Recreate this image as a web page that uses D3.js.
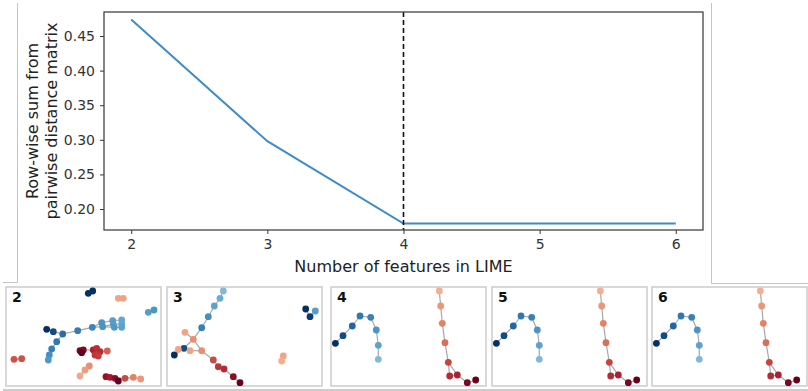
<!DOCTYPE html>
<html><head><meta charset="utf-8">
<script src="https://cdn.jsdelivr.net/npm/d3@7"></script>
<style>html,body{margin:0;padding:0;background:#fff;}svg{display:block;font-family:"DejaVu Sans",sans-serif;}</style>
</head><body>
<svg id="chart" width="808" height="391"></svg>
<script>
// ---- Top line chart data ----
const featureCounts = [2, 3, 4, 5, 6];
const rowSums = [0.474, 0.298, 0.179, 0.179, 0.179];
const chosenCount = 4;
const xTickValues = [2, 3, 4, 5, 6];
const yTickValues = [0.20, 0.25, 0.30, 0.35, 0.40, 0.45];
const xLabel = "Number of features in LIME";
const yLabelLines = ["Row-wise sum from", "pairwise distance matrix"];

// ---- Bottom graph panels: [x, y, colourValue] in embedding units ----
const panelLabels = ["2", "3", "4", "5", "6"];
const nodesK2 = [
  [82.3,6.3,1.0],[86.7,4,1.0],[112.3,11.3,0.3],[117.3,11.3,0.3],[142.3,25.3,0.78],[148,23,0.8],
  [40.7,42.3,1.0],[47.3,44.7,0.95],[56.7,47,0.88],[71.7,43.7,0.85],[86.3,40.3,0.83],
  [95.7,35.7,0.8],[96.7,39.7,0.8],[106.7,33.7,0.78],[107.3,37.3,0.78],[108.3,40.3,0.79],
  [115.7,33,0.76],[115.7,37,0.76],[115.7,40.3,0.77],
  [50.7,54.7,0.86],[45.7,62,0.84],[43.3,68,0.81],[42.3,73,0.79],
  [8,72.3,0.18],[15.7,71.7,0.18],
  [74,63.7,0.02],[77.3,63,0.04],[75.7,65.7,0.0],[87.3,63,0.1],[90.7,61.3,0.13],[94,64.7,0.12],
  [89,68,0.14],[92.3,69,0.15],[101.3,64,0.2],
  [83.3,79,0.27],[79,83,0.29],[74,89,0.31],
  [100,89.7,0.06],[104,90.3,0.09],[109,91.3,0.05],[112.3,94,0.0],[119,91.3,0.17],[127.3,90.3,0.25],[134.7,92,0.28]
];
const edgesK2 = [[0,1],[2,3],[4,5],[6,7],[7,8],[8,9],[9,10],[10,11],[10,12],[11,13],[12,14],[13,16],[14,17],[15,18],[12,15],
  [8,19],[19,20],[20,21],[21,22],[23,24],[25,26],[26,28],[28,29],[29,30],[30,31],[31,32],[30,33],[34,35],[35,36],
  [37,38],[38,39],[39,40],[39,41],[41,42],[42,43]];
const nodesK3 = [
  [56.3,4,0.72],[53,11.3,0.75],[47.3,19,0.77],[41.3,29.7,0.81],[34.7,40.7,0.84],
  [26.3,52.3,0.27],[18,45.3,0.3],[17,61.3,0.95],[7.3,68,1.0],[11.3,62.3,0.3],[23,63.7,0.3],[34.7,63.7,0.27],
  [46.3,73,0.17],[51.3,79.7,0.14],[57,82,0.12],[66.3,89.7,0.05],[73,95.7,0.0],
  [138.7,22,1.0],[143,29.7,0.98],[148.3,24,0.78],[116.3,69,0.3],[114.7,74,0.32]
];
const edgesK3 = [[0,1],[1,2],[2,3],[3,4],[4,5],[5,6],[5,7],[5,11],[7,8],[9,10],[10,11],[11,12],[12,13],[13,14],[14,15],[15,16],
  [17,18],[18,19],[20,21]];
const nodesStable = [
  [4.4,56.3,1.0],[12,48.7,0.95],[21.3,39,0.9],[29,29,0.86],[39.7,30.3,0.84],[45.3,43,0.8],[47.3,58.3,0.77],[47.3,72.3,0.72],
  [108.3,4,0.32],[109.7,19,0.28],[111.3,36.3,0.25],[114,55.7,0.22],[117.3,75.3,0.16],[118.7,89,0.12],[126.3,88,0.1],[136.3,95.7,0.03],[144.7,93,0.0]
];
const edgesStable = [[0,1],[1,2],[2,3],[3,4],[4,5],[5,6],[6,7],[8,9],[9,10],[10,11],[11,12],[12,13],[12,14],[13,14],[14,15],[15,16]];
const panelNodes = [nodesK2, nodesK3, nodesStable, nodesStable, nodesStable];
const panelEdges = [edgesK2, edgesK3, edgesStable, edgesStable, edgesStable];

const svg = d3.select("#chart");

// frame lines of the composite figure
const frame = svg.append("g").attr("stroke", "#c4c4c4").attr("stroke-width", 1).attr("fill", "none");
frame.append("line").attr("x1", 17.5).attr("x2", 17.5).attr("y1", 3).attr("y2", 282.5);
frame.append("line").attr("x1", 711.5).attr("x2", 711.5).attr("y1", 3).attr("y2", 283.5);
frame.append("line").attr("x1", 3).attr("x2", 17.5).attr("y1", 282.5).attr("y2", 282.5);
frame.append("line").attr("x1", 711.5).attr("x2", 808).attr("y1", 283.5).attr("y2", 283.5);
frame.append("line").attr("x1", 3).attr("x2", 808).attr("y1", 390).attr("y2", 390).attr("stroke", "#999");

// ---- top chart ----
const L = 104, R = 703, T = 12, B = 230;
const x = d3.scaleLinear().domain([1.8, 6.2]).range([L, R]);
const y = d3.scaleLinear().domain([0.1697, 0.4847]).range([B, T]);

const gx = svg.append("g").attr("transform", `translate(0,${B})`)
  .call(d3.axisBottom(x).tickValues(xTickValues).tickFormat(d3.format("d")).tickSize(4).tickPadding(5));
const gy = svg.append("g").attr("transform", `translate(${L},0)`)
  .call(d3.axisLeft(y).tickValues(yTickValues).tickFormat(d3.format(".2f")).tickSize(4).tickPadding(5));
[gx, gy].forEach(g => {
  g.select(".domain").remove();
  g.selectAll(".tick line").attr("stroke", "#333").attr("stroke-width", 1);
  g.selectAll(".tick text").attr("fill", "#333").style("font-size", "14px").style("font-family", "DejaVu Sans");
});

svg.append("path")
  .datum(featureCounts.map((k, i) => [k, rowSums[i]]))
  .attr("fill", "none").attr("stroke", "#3d8cc8").attr("stroke-width", 2)
  .attr("d", d3.line().x(d => x(d[0])).y(d => y(d[1])));

svg.append("line")
  .attr("x1", x(chosenCount)).attr("x2", x(chosenCount)).attr("y1", T).attr("y2", B)
  .attr("stroke", "#111").attr("stroke-width", 1.6).attr("stroke-dasharray", "5,3");

svg.append("rect").attr("x", L).attr("y", T).attr("width", R - L).attr("height", B - T)
  .attr("fill", "none").attr("stroke", "#444").attr("stroke-width", 1.3);

svg.append("text").attr("x", (L + R) / 2).attr("y", 272).attr("text-anchor", "middle")
  .attr("fill", "#222").style("font-size", "16px").text(xLabel);

const yl = svg.append("text").attr("transform", `translate(38,${(T + B) / 2}) rotate(-90)`)
  .attr("text-anchor", "middle").attr("fill", "#222").style("font-size", "16px");
yLabelLines.forEach((s, i) => yl.append("tspan").attr("x", 0).attr("dy", i === 0 ? 0 : 19).text(s));

// ---- bottom panels ----
const panelLefts = [6, 167, 331, 492, 652];
const panelTop = 287, panelW = 155, panelH = 99;
panelLefts.forEach((pl, p) => {
  const px = d3.scaleLinear().domain([0, panelW]).range([pl, pl + panelW]);
  const py = d3.scaleLinear().domain([0, panelH]).range([panelTop, panelTop + panelH]);
  const g = svg.append("g");
  g.append("rect").attr("x", pl).attr("y", panelTop).attr("width", panelW).attr("height", panelH)
    .attr("fill", "#fff").attr("stroke", "#cfcfcf").attr("stroke-width", 1.6);
  const nodes = panelNodes[p];
  g.selectAll("line.edge").data(panelEdges[p]).join("line").attr("class", "edge")
    .attr("x1", d => px(nodes[d[0]][0])).attr("y1", d => py(nodes[d[0]][1]))
    .attr("x2", d => px(nodes[d[1]][0])).attr("y2", d => py(nodes[d[1]][1]))
    .attr("stroke", "#a8a8a8").attr("stroke-width", 1.2);
  g.selectAll("circle").data(nodes).join("circle")
    .attr("cx", d => px(d[0])).attr("cy", d => py(d[1])).attr("r", 3.4)
    .attr("fill", d => d3.interpolateRdBu(d[2]));
  g.append("text").attr("x", pl + 6).attr("y", panelTop + 15).attr("fill", "#111")
    .style("font-size", "14px").style("font-weight", "bold").text(panelLabels[p]);
});
</script>
</body></html>
